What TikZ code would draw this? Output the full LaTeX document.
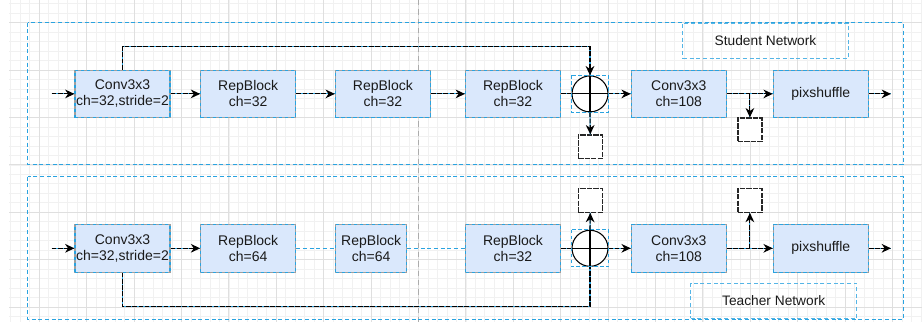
\documentclass[tikz,border=0pt]{standalone}
\usepackage{fontspec}
\setmainfont{Liberation Sans}
\usetikzlibrary{arrows.meta,calc}
\definecolor{boxfill}{HTML}{DAE8FC}
\definecolor{selblue}{HTML}{2AA3E0}
\definecolor{gridminor}{HTML}{F1F1F1}
\definecolor{gridmajor}{HTML}{DFDFDF}
\definecolor{txt}{HTML}{1A1A1A}
\tikzset{
  tip/.style={-{Stealth[length=7pt,width=6.5pt,inset=2.2pt]}},
  conn/.style={draw=black, line width=0.85pt, dash pattern=on 3.5pt off 1.2pt,
     preaction={draw=selblue, line width=0.85pt, solid, arrows=-}},
  blueline/.style={draw=selblue, line width=0.9pt, dash pattern=on 3pt off 2pt},
  blockbox/.style={rectangle, fill=boxfill, draw=gray!75, line width=0.8pt,
     postaction={draw=selblue, line width=0.8pt, dash pattern=on 2.5pt off 2pt},
     minimum width=71.25pt, minimum height=35.6pt, inner sep=0pt, align=center,
     text=txt, font=\fontsize{10.5}{12}\selectfont},
  sqbox/.style={rectangle, fill=white, draw=black!85, line width=0.9pt,
     dash pattern=on 4pt off 0.8pt, minimum width=18pt, minimum height=17.6pt, inner sep=0pt},
  sumnode/.style={circle, draw=black, line width=0.8pt, fill=white, minimum size=27pt, inner sep=0pt,
     path picture={\draw[black, line width=0.8pt] (path picture bounding box.north) -- (path picture bounding box.south)
        (path picture bounding box.west) -- (path picture bounding box.east);}},
  seldash/.style={draw=selblue, line width=0.9pt, dash pattern=on 2.5pt off 2pt},
  outer/.style={draw=selblue, line width=1.1pt, dash pattern=on 3pt off 2pt},
  labelbox/.style={rectangle, draw=selblue!80, line width=0.9pt, dash pattern=on 3pt off 2pt,
     inner sep=0pt, text=txt, font=\fontsize{10.3}{12}\selectfont},
}
\begin{document}
\begin{tikzpicture}[x=0.75pt,y=-0.75pt]
\useasboundingbox (0,0) rectangle (922,322);
\fill[white] (0,0) rectangle (922,322);
% grid
\begin{scope}
\clip (9,0) rectangle (922,322);
\foreach \i in {-3,...,95} {
  \pgfmathsetmacro\xx{39.3+9.48*\i}
  \draw[gridminor, line width=0.6pt] (\xx,0) -- (\xx,322);
}
\foreach \i in {-3,...,32} {
  \pgfmathsetmacro\yy{22.7+9.48*\i}
  \draw[gridminor, line width=0.6pt] (9,\yy) -- (922,\yy);
}
\foreach \i in {-1,...,19} {
  \pgfmathsetmacro\xx{39.3+47.4*\i}
  \draw[gridmajor, line width=0.7pt] (\xx,0) -- (\xx,322);
}
\foreach \i in {-1,...,7} {
  \pgfmathsetmacro\yy{22.7+47.4*\i}
  \draw[gridmajor, line width=0.7pt] (9,\yy) -- (922,\yy);
}
\end{scope}
\draw[gray!65, line width=0.7pt, dash pattern=on 4pt off 3pt] (418.3,0) -- (418.3,322);

% outer frames
\draw[outer] (27.7,22.7) rectangle (903.3,164.3);
\draw[outer] (27.7,176.7) rectangle (903.3,319.3);
\node[labelbox, minimum width=124pt, minimum height=26.2pt] (slabel) at (765.5,40.8) {Student Network};
\node[labelbox, minimum width=124.5pt, minimum height=26.2pt] (tlabel) at (773.7,300.8) {Teacher Network};

% ---------- Student ----------
\node[blockbox] (sconv) at (122.5,93.9) {Conv3x3\\ch=32,stride=2};
\node[blockbox] (srep1) at (248.2,93.9) {RepBlock\\ch=32};
\node[blockbox] (srep2) at (382.9,93.9) {RepBlock\\ch=32};
\node[blockbox] (srep3) at (513,93.9) {RepBlock\\ch=32};
\node[sumnode] (ssum) at (590,93.9) {};
\node[blockbox] (sc108) at (678.8,93.9) {Conv3x3\\ch=108};
\node[blockbox] (spix) at (820.8,93.9) {pixshuffle};
\node[sqbox] (ssq1) at (590.3,146.7) {};
\node[sqbox] (ssq2) at (749.9,129.7) {};
\coordinate (sin) at (51.7,93.9);
\coordinate (sout) at (891,93.9);
\coordinate (stop) at (0,46.7);
\draw[seldash] (ssum.west|-ssum.north) rectangle (ssum.east|-ssum.south);

\draw[conn,tip] (sin) -- (sconv);
\draw[conn,tip] (sconv) -- (srep1);
\draw[conn,tip] (srep1) -- (srep2);
\draw[conn,tip] (srep2) -- (srep3);
\draw[conn] (srep3) -- (ssum);
\draw[conn,tip] (ssum) -- (sc108);
\draw[conn,tip] (sc108) -- (spix);
\draw[conn,tip] (spix) -- (sout);
\draw[conn,tip] (sconv.north) |- (ssum|-stop) -- (ssum.north);
\draw[conn,tip] (ssum.south) -- (ssq1.north);
\draw[conn,tip] (ssq2|-sc108) -- (ssq2.north);

% ---------- Teacher ----------
\node[blockbox] (tconv) at (122.5,248.3) {Conv3x3\\ch=32,stride=2};
\node[blockbox] (trep1) at (248.2,248.3) {RepBlock\\ch=64};
\node[blockbox, minimum width=53.3pt] (trep2) at (371.2,248.3) {RepBlock\\ch=64};
\node[blockbox] (trep3) at (513,248.3) {RepBlock\\ch=32};
\node[sumnode] (tsum) at (590,248.3) {};
\node[blockbox] (tc108) at (678.8,248.3) {Conv3x3\\ch=108};
\node[blockbox] (tpix) at (820.8,248.3) {pixshuffle};
\node[sqbox] (tsq1) at (590.3,200.5) {};
\node[sqbox] (tsq2) at (749.9,200.5) {};
\coordinate (tin) at (51.7,248.3);
\coordinate (tout) at (891,248.3);
\coordinate (tbot) at (0,306.7);
\draw[seldash] (tsum.west|-tsum.north) rectangle (tsum.east|-tsum.south);

\draw[conn,tip] (tin) -- (tconv);
\draw[conn,tip] (tconv) -- (trep1);
\draw[blueline] (trep1) -- (trep2);
\draw[blueline] (trep2) -- (trep3);
\draw[conn] (trep3) -- (tsum);
\draw[conn,tip] (tsum) -- (tc108);
\draw[conn,tip] (tc108) -- (tpix);
\draw[conn,tip] (tpix) -- (tout);
\draw[conn] (tconv.south) |- (tsum|-tbot) -- (tsum.south);
\draw[conn,tip] (tsum.north) -- (tsq1.south);
\draw[conn,tip] (tsq2|-tc108) -- (tsq2.south);
\end{tikzpicture}
\end{document}
